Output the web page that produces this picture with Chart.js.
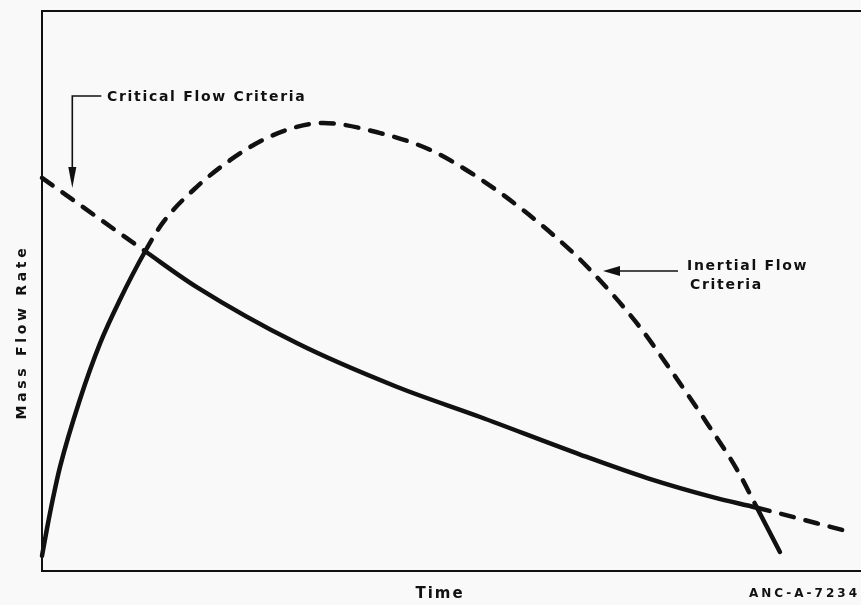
<!DOCTYPE html>
<html>
<head>
<meta charset="utf-8">
<script src="https://cdn.jsdelivr.net/npm/chart.js@4"></script>
<style>
  html, body { margin: 0; padding: 0; background: #f9f9f9; }
  #wrap { width: 861px; height: 605px; }
</style>
</head>
<body>
<div id="wrap"><canvas id="flowChart" width="861" height="605"></canvas></div>
<script>
// arbitrary units (time 0-100, flow 0-100)
const criticalTime = [0, 12.6, 18.9, 31.1, 43.3, 53.5, 65.7, 73.9, 81.9, 87.3, 98.3];
const criticalFlow = [70.2, 57.1, 50.7, 40.7, 32.9, 27.5, 20.8, 16.6, 13.2, 11.3, 7.1];

const inertialTime = [0, 0.6, 1.3, 2.2, 4.6, 7.1, 9.5, 12.6, 14.8, 18.9, 23.0, 27.0, 31.1, 34.3, 41.3, 47.4, 53.1, 58.7, 64.5, 67.3, 72.6, 77.0, 81.2, 84.9, 87.3, 90.1];
const inertialFlow = [2.7, 7.5, 12.7, 18.6, 30.5, 40.7, 48.4, 57.1, 62.3, 68.6, 73.4, 77.0, 79.3, 80.0, 78.2, 75.2, 70.4, 64.5, 57.3, 53.2, 44.3, 35.4, 26.4, 18.0, 11.3, 3.4];

// where the two criteria cross
const crossTimes = [12.6, 87.3];

const ink = '#111';
const dash = [13, 12];

function pts(xs, ys) {
  return xs.map((x, i) => ({ x: x, y: ys[i] }));
}

function between(c) {
  return c.p0.parsed.x >= crossTimes[0] && c.p1.parsed.x <= crossTimes[1];
}

const frame = {
  id: 'frame',
  afterDraw(chart) {
    const ctx = chart.ctx;
    const a = chart.chartArea;
    const x = chart.scales.x;
    ctx.save();
    ctx.strokeStyle = ink;
    ctx.fillStyle = ink;
    ctx.lineWidth = 2;
    ctx.beginPath();
    ctx.moveTo(a.right, a.top);
    ctx.lineTo(a.left, a.top);
    ctx.lineTo(a.left, a.bottom);
    ctx.lineTo(a.right, a.bottom);
    ctx.stroke();

    // Critical Flow Criteria leader
    const cx = x.getPixelForValue(3.7);
    ctx.lineWidth = 1.6;
    ctx.beginPath();
    ctx.moveTo(cx + 29, 96);
    ctx.lineTo(cx, 96);
    ctx.lineTo(cx, 172);
    ctx.stroke();
    ctx.beginPath();
    ctx.moveTo(cx - 4, 167);
    ctx.lineTo(cx + 4, 167);
    ctx.lineTo(cx, 188);
    ctx.closePath();
    ctx.fill();

    // Inertial Flow Criteria leader
    ctx.beginPath();
    ctx.moveTo(678, 271);
    ctx.lineTo(612, 271);
    ctx.stroke();
    ctx.beginPath();
    ctx.moveTo(620, 266);
    ctx.lineTo(620, 276);
    ctx.lineTo(603, 271);
    ctx.closePath();
    ctx.fill();

    ctx.textBaseline = 'middle';
    ctx.textAlign = 'left';
    ctx.font = '600 14px "DejaVu Sans"';
    ctx.letterSpacing = '1.7px';
    ctx.fillText('Critical Flow Criteria', 107, 97);
    ctx.fillText('Inertial Flow', 687, 266);
    ctx.fillText('Criteria', 690, 285);

    ctx.font = 'bold 15px "DejaVu Sans"';
    ctx.letterSpacing = '2px';
    ctx.textAlign = 'center';
    ctx.fillText('Time', 440, 594);

    ctx.font = 'bold 12px "DejaVu Sans"';
    ctx.letterSpacing = '3px';
    ctx.textAlign = 'right';
    ctx.fillText('ANC-A-7234', 860, 594);

    ctx.translate(22, 332);
    ctx.rotate(-Math.PI / 2);
    ctx.textAlign = 'center';
    ctx.font = 'bold 14px "DejaVu Sans"';
    ctx.letterSpacing = '3.7px';
    ctx.fillText('Mass Flow Rate', 0, 0);
    ctx.restore();
  }
};

new Chart(document.getElementById('flowChart').getContext('2d'), {
  type: 'line',
  data: {
    datasets: [{
      label: 'Critical Flow Criteria',
      data: pts(criticalTime, criticalFlow),
      borderColor: ink,
      borderWidth: 4.5,
      borderCapStyle: 'round',
      cubicInterpolationMode: 'monotone',
      pointRadius: 0,
      segment: { borderDash: c => between(c) ? [] : dash }
    }, {
      label: 'Inertial Flow Criteria',
      data: pts(inertialTime, inertialFlow),
      borderColor: ink,
      borderWidth: 4.5,
      borderCapStyle: 'round',
      cubicInterpolationMode: 'monotone',
      pointRadius: 0,
      segment: { borderDash: c => between(c) ? dash : [] }
    }]
  },
  options: {
    responsive: false,
    animation: false,
    clip: false,
    layout: { padding: { left: 42, top: 11, right: 0, bottom: 34 } },
    scales: {
      x: { type: 'linear', display: false, min: 0, max: 100 },
      y: { display: false, min: 0, max: 100 }
    },
    plugins: { legend: { display: false }, tooltip: { enabled: false } }
  },
  plugins: [frame]
});
</script>
</body>
</html>
